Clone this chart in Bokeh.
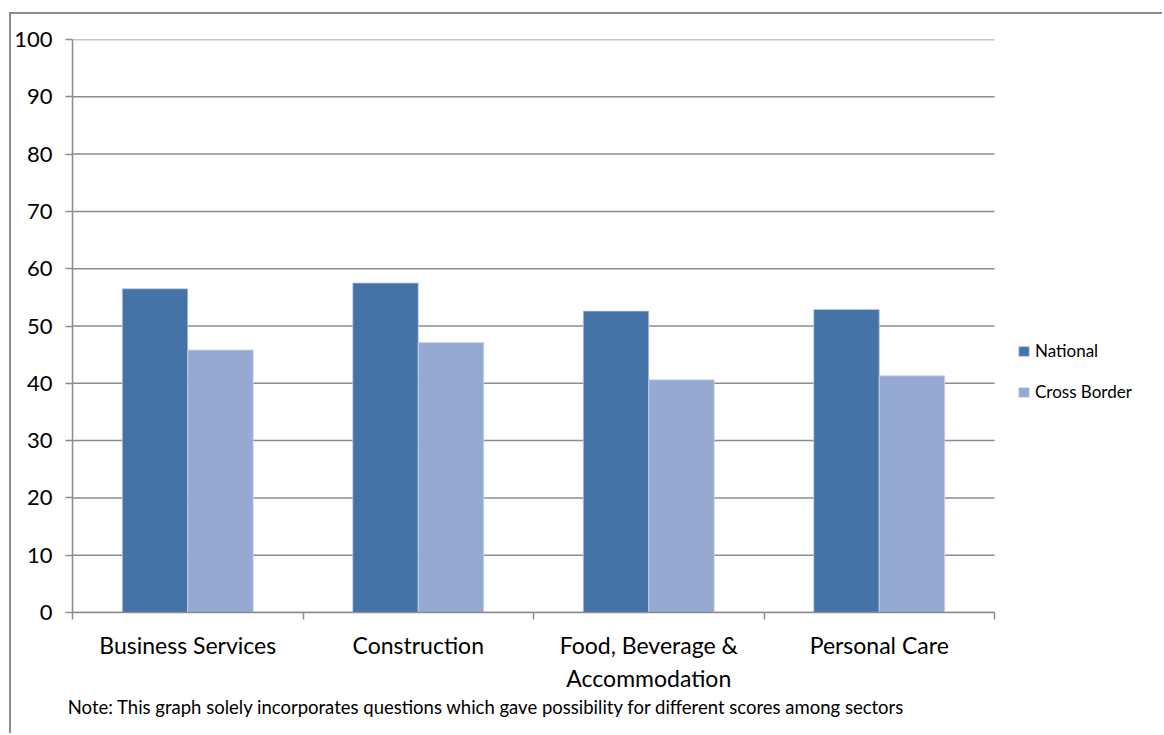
import numpy as np
from bokeh.plotting import figure
from bokeh.models import (ColumnDataSource, FixedTicker, Legend, LegendItem,
                          Range1d)
from bokeh.transform import dodge
from bokeh.embed import file_html
from bokeh.resources import INLINE

# Sector scores
categories = ["Business Services", "Construction",
              "Food, Beverage &\nAccommodation", "Personal Care"]
national = [56.5, 57.5, 52.6, 52.9]
cross_border = [45.8, 47.1, 40.6, 41.3]
y_ticks = [0, 10, 20, 30, 40, 50, 60, 70, 80, 90, 100]
note = ("Note: This graph solely incorporates questions which gave "
        "possibility for different scores among sectors")

FONT = "Lato"
GRID = "#8c8c8c"
C_NAT = "#4673a7"
C_CB = "#95a9d1"
BAR_W = 0.284

# page layout (pixels)
OFF_X, OFF_Y = 11, 14          # margin + border of the chart box
PLOT_L, PLOT_R = 72, 994       # horizontal extent of the category area
FRAME_R = 1150                 # frame continues right to hold the legend
n = len(categories)
x_end = n * (FRAME_R - PLOT_L) / (PLOT_R - PLOT_L)

# the axis label is centred under the frame; trailing en spaces move the
# visible footnote towards the left edge
NOTE_PAD = "\u2002" * 27

centers = np.arange(n) + 0.5
src = ColumnDataSource(dict(x=centers, national=national, cross=cross_border))

p = figure(width=1164 - OFF_X, height=735 - OFF_Y,
           output_backend="svg", toolbar_location=None,
           x_range=Range1d(0, x_end), y_range=Range1d(0, 100),
           min_border_left=PLOT_L - OFF_X, min_border_right=1164 - FRAME_R,
           min_border_top=39 - OFF_Y, min_border_bottom=123)
p.margin = (OFF_Y - 2, 0, 0, OFF_X - 2)
p.styles = {"border-left": f"2px solid {GRID}", "border-top": f"2px solid {GRID}"}
p.outline_line_color = None
p.background_fill_color = "white"
p.border_fill_color = "white"

# horizontal gridlines limited to the category area
p.xgrid.grid_line_color = None
p.ygrid.grid_line_color = None
p.segment(x0=0, x1=n, y0=y_ticks, y1=y_ticks, line_color=GRID, line_width=1.5)

r_nat = p.vbar(x=dodge("x", -BAR_W / 2, range=p.x_range), top="national",
               width=BAR_W, source=src, fill_color=C_NAT,
               line_color="#b9c9e0", line_width=0.8)
r_cb = p.vbar(x=dodge("x", BAR_W / 2, range=p.x_range), top="cross",
              width=BAR_W, source=src, fill_color=C_CB,
              line_color="#c9d4ea", line_width=0.8)

# x axis: labels at the centres, tick marks at the category boundaries
xa = p.xaxis[0]
xa.bounds = (0, n)
xa.ticker = FixedTicker(ticks=list(centers), minor_ticks=list(range(n + 1)))
xa.major_label_overrides = {float(c): lab for c, lab in zip(centers, categories)}
xa.major_tick_line_color = None
xa.major_tick_out = 0
xa.major_tick_in = 0
xa.minor_tick_line_color = GRID
xa.minor_tick_line_width = 1.5
xa.minor_tick_out = 7
xa.minor_tick_in = 0
xa.axis_line_color = GRID
xa.axis_line_width = 1.5
xa.major_label_text_font = FONT
xa.major_label_text_font_size = "23px"
xa.major_label_text_color = "black"
xa.major_label_standoff = 11

# footnote under the category labels
xa.axis_label = note + NOTE_PAD
xa.axis_label_text_font = FONT
xa.axis_label_text_font_size = "18.5px"
xa.axis_label_text_font_style = "normal"
xa.axis_label_text_color = "black"
xa.axis_label_standoff = 1

ya = p.yaxis[0]
ya.ticker = FixedTicker(ticks=y_ticks, minor_ticks=[])
ya.major_tick_line_color = GRID
ya.major_tick_line_width = 1.5
ya.major_tick_out = 7
ya.major_tick_in = 0
ya.axis_line_color = GRID
ya.axis_line_width = 1.5
ya.major_label_text_font = FONT
ya.major_label_text_font_size = "22px"
ya.major_label_text_color = "black"
ya.major_label_standoff = 13

legend = Legend(items=[LegendItem(label="National", renderers=[r_nat]),
                       LegendItem(label="Cross Border", renderers=[r_cb])],
                location=(945, 210), orientation="vertical",
                glyph_width=13, glyph_height=12, label_height=12,
                label_standoff=5, spacing=20, padding=0, margin=0,
                border_line_color=None, background_fill_alpha=0,
                label_text_font=FONT, label_text_font_size="17px",
                label_text_color="black")
p.add_layout(legend, "center")

open("out.html", "w").write(file_html(p, INLINE))
